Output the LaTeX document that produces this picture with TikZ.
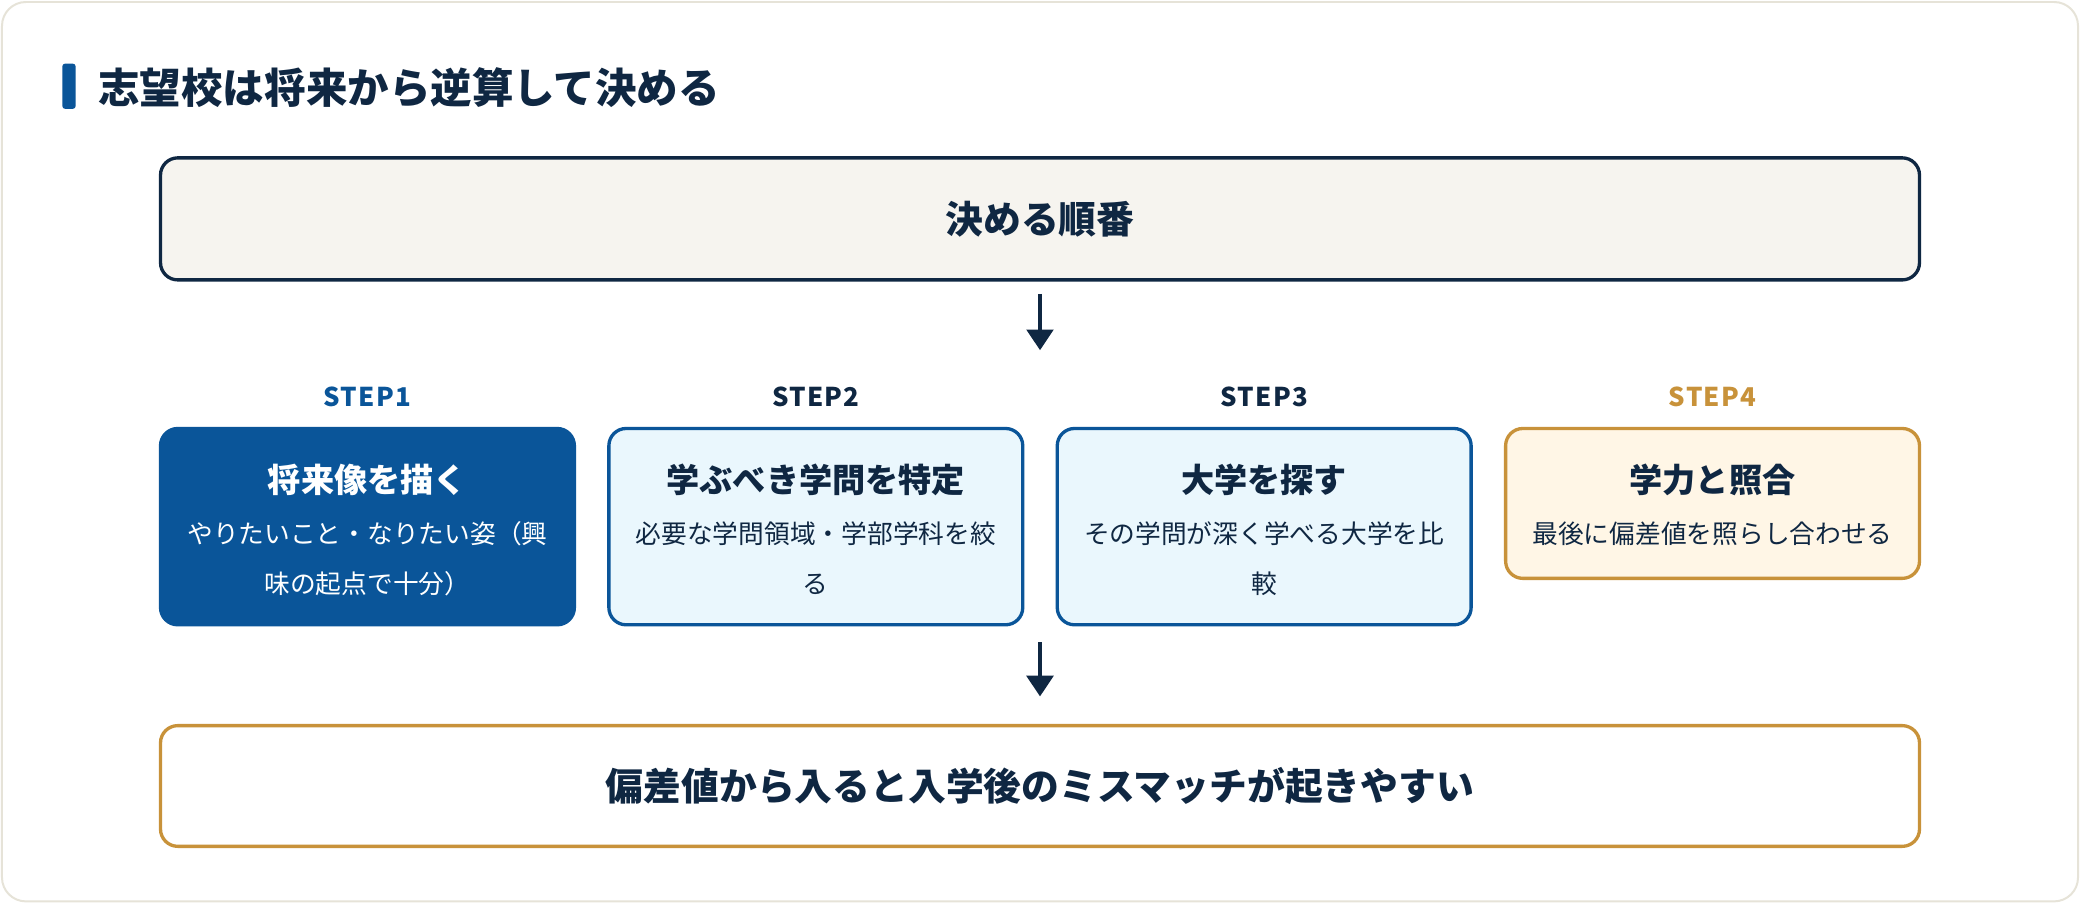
\documentclass[tikz,border=0pt]{standalone}
\usepackage{fontspec}
\setmainfont{Noto Sans CJK JP}
\usetikzlibrary{arrows.meta}
\definecolor{navy}{HTML}{0F2742}
\definecolor{blueA}{HTML}{0A5599}
\definecolor{goldA}{HTML}{C8923A}
\definecolor{lightblue}{HTML}{EAF7FD}
\definecolor{cream}{HTML}{FFF6E6}
\definecolor{topfill}{HTML}{F6F4EF}
\definecolor{cardline}{HTML}{E6E3D8}
\begin{document}
\begin{tikzpicture}[x=1pt,y=-1pt,
  box/.style={draw, line width=2.5pt, rounded corners=13pt, anchor=north west, inner sep=0pt, outer sep=0pt},
  stepbox/.style={box, minimum width=312pt},
  steplabel/.style={inner sep=0pt, font=\bfseries\fontsize{19.5}{22}\selectfont\addfontfeature{LetterSpace=5}},
  steptitle/.style={inner sep=0pt, font=\bfseries\fontsize{25}{30}\selectfont},
  stepsub/.style={inner sep=0pt, align=center, font=\fontsize{19.4}{37.7}\selectfont},
  bigtext/.style={inner sep=0pt, text=navy, font=\bfseries\fontsize{28.5}{34}\selectfont},
  arr/.style={draw=navy, line width=3pt, -{Triangle[width=20pt,length=15.6pt]}}
]
\useasboundingbox (0,0) rectangle (1568,681);
\draw[cardline, fill=white, line width=1.5pt, rounded corners=18pt] (1.5,1.5) rectangle (1566.5,679.5);
\fill[blueA, rounded corners=2pt] (47,48) rectangle (57,82);
\node[anchor=west, inner sep=0pt, text=navy, font=\bfseries\fontsize{31.3}{36}\selectfont] (title) at (74,66) {志望校は将来から逆算して決める};

\node[box, draw=navy, fill=topfill, minimum width=1326pt, minimum height=92pt] (top) at (121,119) {};
\node[bigtext] (toptext) at (top.center) {決める順番};

\coordinate (a1e) at (784,264);
\draw[arr] ([yshift=-10.5pt]top.south) -- (a1e);

\node[stepbox, draw=blueA, fill=blueA, minimum height=148pt] (s1) at (121,323) {};
\node[stepbox, draw=blueA, fill=lightblue, minimum height=148pt] (s2) at (459,323) {};
\node[stepbox, draw=blueA, fill=lightblue, minimum height=148pt] (s3) at (797,323) {};
\node[stepbox, draw=goldA, fill=cream, minimum height=113pt] (s4) at (1135,323) {};

\node[steplabel, text=blueA] (l1) at (s1.north |- 0,299) {STEP1};
\node[steplabel, text=navy] (l2) at (s2.north |- 0,299) {STEP2};
\node[steplabel, text=navy] (l3) at (s3.north |- 0,299) {STEP3};
\node[steplabel, text=goldA] (l4) at (s4.north |- 0,299) {STEP4};

\node[steptitle, text=white] (t1) at (s1.north |- 0,362) {将来像を描く};
\node[steptitle, text=navy] (t2) at (s2.north |- 0,362) {学ぶべき学問を特定};
\node[steptitle, text=navy] (t3) at (s3.north |- 0,362) {大学を探す};
\node[steptitle, text=navy] (t4) at (s4.north |- 0,362) {学力と照合};

\node[stepsub, text=white] (d1) at (s1.north |- 0,421) {やりたいこと・なりたい姿（興\\味の起点で十分）};
\node[stepsub, text=navy] (d2) at (s2.north |- 0,421) {必要な学問領域・学部学科を絞\\る};
\node[stepsub, text=navy] (d3) at (s3.north |- 0,421) {その学問が深く学べる大学を比\\較};
\node[stepsub, text=navy] (d4) at (s4.north |- 0,402) {最後に偏差値を照らし合わせる};

\node[box, draw=goldA, fill=white, minimum width=1326pt, minimum height=91pt] (bottom) at (121,547) {};
\node[bigtext] (bottomtext) at (bottom.center) {偏差値から入ると入学後のミスマッチが起きやすい};

\coordinate (a2s) at (784,484);
\draw[arr] (a2s) -- ([yshift=22pt]bottom.north);
\end{tikzpicture}
\end{document}
